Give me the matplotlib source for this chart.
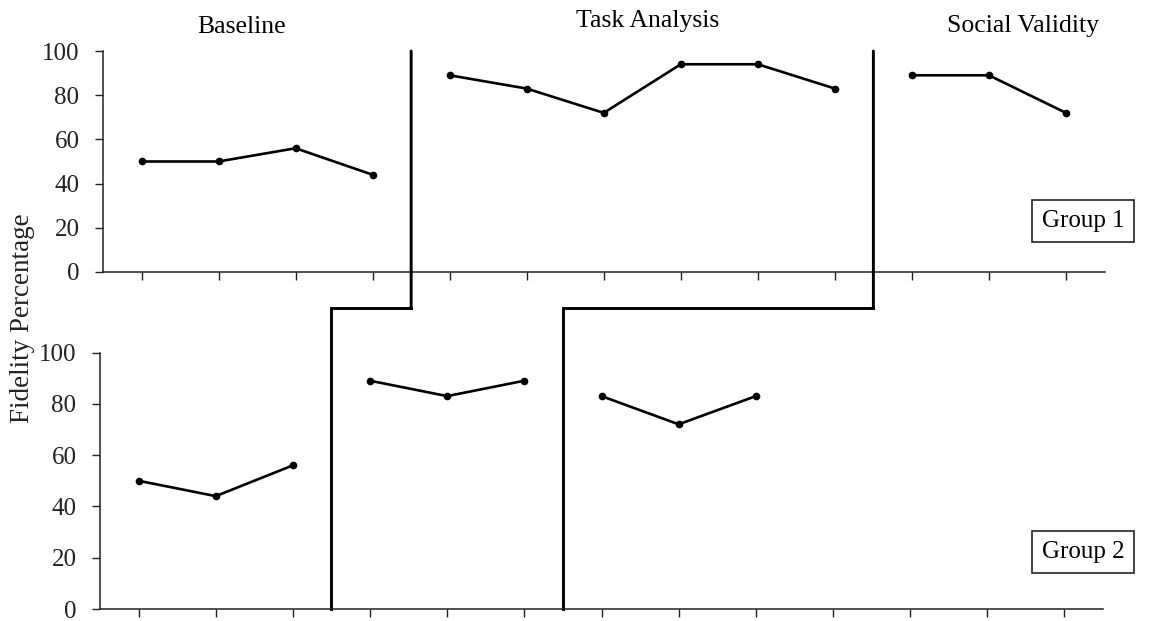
import matplotlib
matplotlib.use("Agg")
import matplotlib.pyplot as plt
from matplotlib.patches import ConnectionPatch

# sessions and fidelity values
g1_base_x = [1, 2, 3, 4]
g1_base_y = [50, 50, 56, 44]
g1_task_x = [5, 6, 7, 8, 9, 10]
g1_task_y = [89, 83, 72, 94, 94, 83]
g1_soc_x = [11, 12, 13]
g1_soc_y = [89, 89, 72]

g2_base_x = [1, 2, 3]
g2_base_y = [50, 44, 56]
g2_task_x = [4, 5, 6]
g2_task_y = [89, 83, 89]
g2_soc_x = [7, 8, 9]
g2_soc_y = [83, 72, 83]

phase_titles = ["Baseline", "Task Analysis", "Social Validity"]
y_ticks = [0, 20, 40, 60, 80, 100]
sessions = list(range(1, 14))

plt.rcParams['font.family'] = ['Liberation Serif', 'DejaVu Serif']

W, H = 1155, 621
fig = plt.figure(figsize=(W / 100, H / 100), dpi=100)
ax1 = fig.add_axes([103 / W, 1 - 272 / H, 1001.5 / W, 221 / H])
ax2 = fig.add_axes([100 / W, 1 - 609 / H, 1003 / W, 256.5 / H])


def style(ax):
    ax.set_xlim(0.5, 13.5)
    ax.set_ylim(0, 100)
    ax.set_xticks(sessions)
    ax.set_xticklabels([])
    ax.set_yticks(y_ticks)
    ax.tick_params(axis='y', labelsize=18, length=6, width=1, direction='out',
                   pad=11, colors='#222222')
    ax.tick_params(axis='x', length=6, width=1, direction='out', colors='#222222')
    for s in ['top', 'right']:
        ax.spines[s].set_visible(False)
    for s in ['left', 'bottom']:
        ax.spines[s].set_linewidth(1.1)
        ax.spines[s].set_color('#222222')


for ax in (ax1, ax2):
    style(ax)

line_kw = dict(color='black', lw=1.9, marker='o', markersize=4.5, clip_on=False)
ax1.plot(g1_base_x, g1_base_y, **line_kw)
ax1.plot(g1_task_x, g1_task_y, **line_kw)
ax1.plot(g1_soc_x, g1_soc_y, **line_kw)
ax2.plot(g2_base_x, g2_base_y, **line_kw)
ax2.plot(g2_task_x, g2_task_y, **line_kw)
ax2.plot(g2_soc_x, g2_soc_y, **line_kw)

# staggered phase change lines: down from the top panel, step left, down to bottom panel
step_y = 117.5
for top_x, bot_x in [(4.5, 3.5), (10.5, 6.5)]:
    # same pixel column as top_x in the upper panel, expressed in lower panel data
    x_top = ax2.transData.inverted().transform(ax1.transData.transform((top_x, 0)))[0]
    con = ConnectionPatch(xyA=(top_x, 100), coordsA=ax1.transData,
                          xyB=(x_top, step_y), coordsB=ax2.transData,
                          color='black', lw=2.1)
    fig.add_artist(con)
    ax2.plot([x_top, bot_x, bot_x], [step_y, step_y, 0], color='black',
             lw=2.1, clip_on=False, solid_joinstyle='miter')

fig.text(242 / W, 1 - 33 / H, phase_titles[0], ha='center', va='baseline', fontsize=18.5)
fig.text(648 / W, 1 - 27 / H, phase_titles[1], ha='center', va='baseline', fontsize=18.5)
fig.text(1023 / W, 1 - 32 / H, phase_titles[2], ha='center', va='baseline', fontsize=18.5)

fig.text(23 / W, 1 - 318 / H, "Fidelity Percentage", rotation=90,
         ha='center', va='center', fontsize=19.5, color='#222222')

box = dict(boxstyle='square,pad=0.4', fc='white', ec='#222222', lw=1.2)
fig.text(1083 / W, 1 - 227 / H, "Group 1", ha='center', va='baseline',
         fontsize=18, bbox=box)
fig.text(1083 / W, 1 - 558 / H, "Group 2", ha='center', va='baseline',
         fontsize=18, bbox=box)

fig.savefig("out.png", dpi=100)
